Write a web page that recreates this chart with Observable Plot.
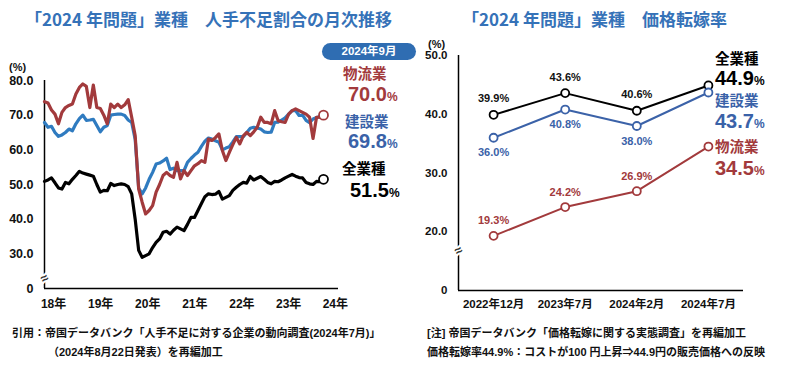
<!DOCTYPE html>
<html><head><meta charset="utf-8">
<script src="https://cdn.jsdelivr.net/npm/d3@7"></script>
<script src="https://cdn.jsdelivr.net/npm/@observablehq/plot@0.6"></script>
<style>
body{margin:0;background:#fff;}
#wrap{position:relative;width:793px;height:373px;overflow:hidden;font-family:"Liberation Sans","Noto Sans CJK JP",sans-serif;}
.abs{position:absolute;white-space:nowrap;line-height:1;}
.title{font-family:"Noto Sans CJK JP",sans-serif;font-weight:700;font-size:17px;color:#3572b8;}
.cap{font-family:"Liberation Sans","Noto Sans CJK JP",sans-serif;font-weight:700;font-size:11px;color:#111;}
.pill{background:#2f6db2;color:#fff;font-weight:700;font-size:11.5px;border-radius:9px;text-align:center;line-height:17px;}
.nm{font-family:"Noto Sans CJK JP",sans-serif;font-weight:700;font-size:14.5px;}
.val{font-family:"Liberation Sans",sans-serif;font-weight:700;font-size:20px;}
.val span{font-size:12px;font-weight:700;line-height:1;}
.unit{font-size:11px;font-weight:700;color:#111;}
#wrap svg{position:absolute;top:0;}
#wrap svg text{font-weight:700;}
</style></head>
<body><div id="wrap"></div>
<script>
// ---------- Left chart: monthly labor shortage ratio (Jan 2018 .. Sep 2024) ----------
const allIndustryMonthly = [50.9,51.3,51.9,50.5,49.0,48.7,50.6,50.2,51.5,52.6,53.8,53.3,53.0,52.7,52.4,50.0,47.8,48.3,48.2,50.3,49.7,50.0,50.2,50.0,49.4,47.3,40.0,31.0,29.0,29.5,30.0,31.8,33.3,34.3,36.2,36.5,35.7,36.8,37.7,37.2,36.7,38.5,40.5,40.5,42.5,44.5,46.5,47.3,47.1,47.2,48.0,45.8,46.3,46.8,48.3,49.2,50.0,50.6,50.4,52.3,51.3,51.8,52.3,51.5,50.6,50.2,50.9,50.8,51.3,51.9,52.4,52.9,52.4,52.0,51.9,50.6,50.2,50.0,50.9,50.8,51.5];
const constructionMonthly = [67.9,66.5,66.8,65.0,63.9,64.3,65.0,66.0,65.5,67.5,69.0,70.0,68.5,68.6,68.8,67.0,65.2,66.5,67.0,70.0,70.2,70.3,70.3,69.9,68.6,67.9,63.0,49.0,47.3,49.0,51.5,53.5,55.9,56.2,56.8,57.6,54.3,54.7,54.0,54.0,54.0,56.4,57.5,58.5,59.3,61.0,62.5,63.4,63.1,62.6,62.2,60.0,60.5,60.9,62.3,63.8,63.8,63.8,65.0,66.2,66.5,66.3,66.0,65.2,65.0,65.1,67.9,68.0,68.6,69.2,70.3,71.3,71.3,69.9,70.0,68.5,67.8,68.9,69.3,69.6,69.8];
const logisticsMonthly = [73.9,73.5,71.5,70.3,67.5,70.8,72.2,72.8,73.2,76.1,78.0,79.0,78.3,72.2,78.7,72.2,71.9,70.0,67.5,73.2,72.2,73.2,72.2,73.0,74.5,69.4,64.1,48.7,44.9,41.5,42.5,43.9,47.8,50.0,52.6,53.5,52.6,52.1,56.4,51.6,54.0,52.6,54.0,55.4,56.0,56.9,56.4,63.1,62.7,63.5,64.6,59.8,56.9,59.3,61.5,63.6,61.7,64.0,65.0,64.1,65.2,66.5,69.4,67.9,67.9,67.5,71.3,68.4,68.1,67.9,70.3,71.3,71.8,71.3,70.8,70.3,69.4,63.3,69.4,69.4,70.0];
const leftYTicks = [20,30,40,50,60,70,80];
const yearLabels = ["18年","19年","20年","21年","22年","23年","24年"];
const yearTickAt = [2.6,16.1,29.6,43.1,56.6,70.0,83.4];
const leftXEnd = 84.3;

// ---------- Right chart: price pass-through rate ----------
const periods = ["2022年12月","2023年7月","2024年2月","2024年7月"];
const passAll = [39.9,43.6,40.6,44.9];
const passConstruction = [36.0,40.8,38.0,43.7];
const passLogistics = [19.3,24.2,26.9,34.5];
const rightYTicks = [10,20,30,40,50];

const C_RED = "#a23a3c", C_BLUE_L = "#2f7bc0", C_BLUE_R = "#3b62a8", C_BLUE_T = "#3a62a8", C_BLK = "#000";
const FONT = "Liberation Sans, Noto Sans CJK JP, sans-serif";

const toRows = (arr) => arr.map((v, i) => ({i, v}));
const blackRows = toRows(allIndustryMonthly), blueRows = toRows(constructionMonthly), redRows = toRows(logisticsMonthly);
const lastOf = (rows) => [rows[rows.length - 1]];
const yearMap = new Map(yearTickAt.map((t, k) => [t, yearLabels[k]]));

const left = Plot.plot({
  width: 400, height: 320,
  marginTop: 80, marginBottom: 32, marginLeft: 44, marginRight: 62,
  x: {domain: [0, leftXEnd], axis: null},
  y: {domain: [20, 80], axis: null},
  style: {fontFamily: FONT, background: "transparent", overflow: "visible"},
  marks: [
    Plot.axisY(leftYTicks, {tickSize: 0, tickPadding: 11, fontSize: 12.5, fill: "#111",
      tickFormat: d => d === 20 ? "0" : d.toFixed(1)}),
    Plot.axisX(yearTickAt, {tickSize: 0, tickPadding: 11, fontSize: 12, fill: "#111",
      tickFormat: d => yearMap.get(d)}),
    Plot.ruleX([0], {stroke: "#000", strokeWidth: 1.5}),
    Plot.ruleY([20], {stroke: "#000", strokeWidth: 1.5}),
    Plot.text([{x: 0, y: 22.9}], {x: "x", y: "y", text: () => "≈", fontSize: 13, rotate: -30,
      fill: "#333", stroke: "white", strokeWidth: 4}),
    Plot.line(blackRows, {x: "i", y: "v", stroke: C_BLK, strokeWidth: 3.2}),
    Plot.line(blueRows, {x: "i", y: "v", stroke: C_BLUE_L, strokeWidth: 3.2}),
    Plot.line(redRows, {x: "i", y: "v", stroke: C_RED, strokeWidth: 3.2}),
    Plot.dot(lastOf(blackRows), {x: "i", y: "v", r: 4.5, fill: "white", stroke: C_BLK, strokeWidth: 1.8}),
    Plot.dot(lastOf(redRows), {x: "i", y: "v", r: 4.5, fill: "white", stroke: C_RED, strokeWidth: 1.8})
  ]
});
left.style.left = "0px";

const rRows = (arr, s) => arr.map((v, i) => ({i, v, s}));
const rAll = rRows(passAll, "all"), rCon = rRows(passConstruction, "con"), rLog = rRows(passLogistics, "log");
const periodMap = new Map(periods.map((p, k) => [k, p]));
const fmtPct = d => d.v.toFixed(1) + "%";
const notLast = (rows) => rows.slice(0, rows.length - 1);

const right = Plot.plot({
  width: 393, height: 320,
  marginTop: 55, marginBottom: 30, marginLeft: 58, marginRight: 50,
  x: {domain: [-0.49, periods.length - 1 + 0.49], axis: null},
  y: {domain: [10, 50], axis: null},
  style: {fontFamily: FONT, background: "transparent", overflow: "visible"},
  marks: [
    Plot.axisY(rightYTicks, {tickSize: 0, tickPadding: 11, fontSize: 11.5, fill: "#111",
      tickFormat: d => d === 10 ? "0" : d.toFixed(1)}),
    Plot.axisX(d3.range(periods.length), {tickSize: 0, tickPadding: 9, fontSize: 11.5, fill: "#111",
      tickFormat: d => periodMap.get(d)}),
    Plot.ruleX([-0.49], {stroke: "#000", strokeWidth: 1.5}),
    Plot.ruleY([10], {stroke: "#000", strokeWidth: 1.5}),
    Plot.text([{x: -0.49, y: 16.8}], {x: "x", y: "y", text: () => "≈", fontSize: 13, rotate: -30,
      fill: "#333", stroke: "white", strokeWidth: 4}),
    Plot.line(rAll, {x: "i", y: "v", stroke: C_BLK, strokeWidth: 2}),
    Plot.line(rCon, {x: "i", y: "v", stroke: C_BLUE_R, strokeWidth: 2}),
    Plot.line(rLog, {x: "i", y: "v", stroke: C_RED, strokeWidth: 2}),
    Plot.dot(rAll, {x: "i", y: "v", r: 4, fill: "white", stroke: C_BLK, strokeWidth: 1.8}),
    Plot.dot(rCon, {x: "i", y: "v", r: 4, fill: "white", stroke: C_BLUE_R, strokeWidth: 1.8}),
    Plot.dot(rLog, {x: "i", y: "v", r: 4, fill: "white", stroke: C_RED, strokeWidth: 1.8}),
    Plot.text(notLast(rAll), {x: "i", y: "v", text: fmtPct, dy: -16, fontSize: 11, fill: "#111"}),
    Plot.text(notLast(rCon), {x: "i", y: "v", text: fmtPct, dy: 15, fontSize: 11, fill: C_BLUE_T}),
    Plot.text(notLast(rLog), {x: "i", y: "v", text: fmtPct, dy: -15, fontSize: 11, fill: C_RED})
  ]
});
right.style.left = "400px";

const wrap = document.getElementById("wrap");
wrap.appendChild(left);
wrap.appendChild(right);

function add(html, cls, x, cy, fs, color) {
  const d = document.createElement("div");
  d.className = "abs " + cls;
  d.innerHTML = html;
  d.style.left = x + "px";
  d.style.top = (cy - fs / 2) + "px";
  if (color) d.style.color = color;
  wrap.appendChild(d);
  return d;
}
add("「2024 年問題」業種　人手不足割合の月次推移", "title", 25, 18, 17);
add("「2024 年問題」業種　価格転嫁率", "title", 462, 18, 17);
const pill = add("2024年9月", "pill", 322, 51.5, 17);
pill.style.width = "94px"; pill.style.height = "17px";
add("(%)", "unit", 9, 67, 11);
add("(%)", "unit", 428, 44, 11);

const lastVal = a => a[a.length - 1].toFixed(1);
add("物流業", "nm", 343, 73.5, 14.5, C_RED);
add(lastVal(logisticsMonthly) + "<span>%</span>", "val", 348, 94, 20, C_RED);
add("建設業", "nm", 345, 121, 14.5, C_BLUE_T);
add(lastVal(constructionMonthly) + "<span>%</span>", "val", 348, 141, 20, C_BLUE_T);
add("全業種", "nm", 342, 168.5, 14.5, "#000");
add(lastVal(allIndustryMonthly) + "<span>%</span>", "val", 350, 190, 20, "#000");

add("全業種", "nm", 715, 58, 15, "#000");
add(lastVal(passAll) + "<span>%</span>", "val", 715, 77.5, 20, "#000");
add("建設業", "nm", 715, 100, 15, C_BLUE_T);
add(lastVal(passConstruction) + "<span>%</span>", "val", 715, 120.5, 20, C_BLUE_T);
add("物流業", "nm", 715, 146.5, 15, C_RED);
add(lastVal(passLogistics) + "<span>%</span>", "val", 715, 168, 20, C_RED);

add("引用：帝国データバンク「人手不足に対する企業の動向調査(2024年7月)」", "cap", 12, 333, 11);
add("（2024年8月22日発表）を再編加工", "cap", 48, 352, 11);
add("[注] 帝国データバンク「価格転嫁に関する実態調査」を再編加工", "cap", 427, 333, 11);
add("価格転嫁率44.9%：コストが100 円上昇⇒44.9円の販売価格への反映", "cap", 427, 352, 11);
</script></body></html>
